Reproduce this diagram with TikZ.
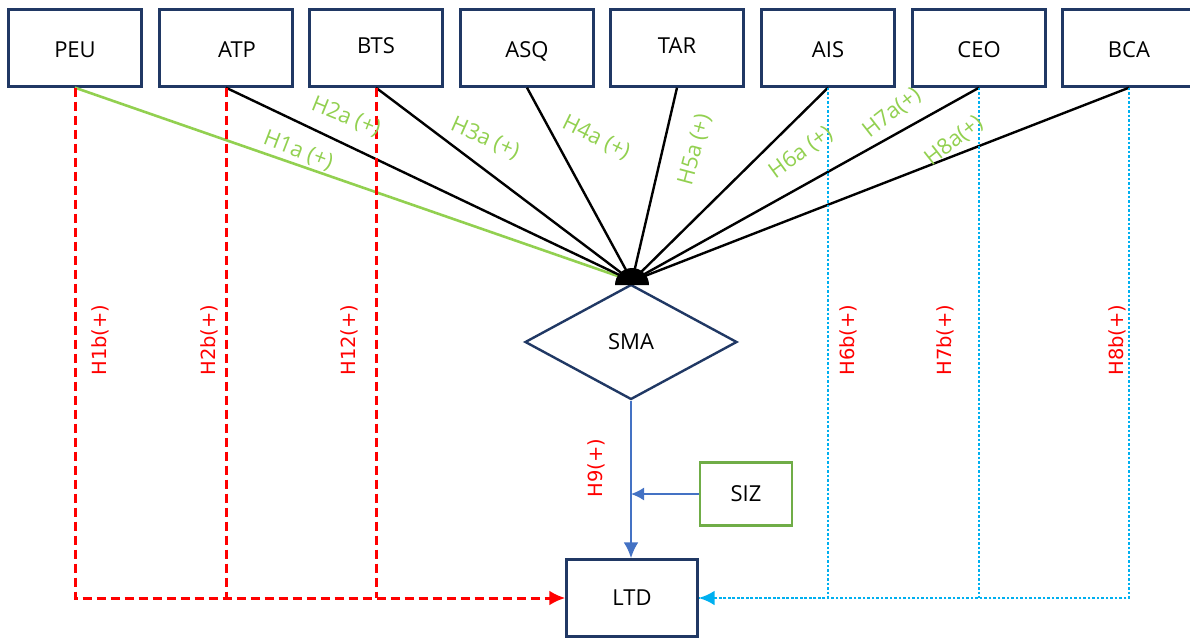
\documentclass[tikz,border=0pt]{standalone}
\usepackage{fontspec}
\setmainfont{Open Sans}
\newfontfamily\hypfont{DejaVu Sans}
\usetikzlibrary{shapes.geometric, arrows.meta}
\definecolor{navy}{RGB}{32,56,100}
\definecolor{leaf}{RGB}{146,208,80}
\definecolor{sizgreen}{RGB}{112,173,71}
\definecolor{linkblue}{RGB}{68,114,196}
\definecolor{skyblue}{RGB}{0,176,240}
\tikzset{
  var/.style={draw=navy, line width=2.4pt, minimum width=133pt, minimum height=77pt, inner sep=0pt, text height=21pt, text depth=2pt, font=\fontsize{22}{26}\selectfont},
  raised/.style={text height=12pt, text depth=2pt},
  hyp/.style={text=leaf, font=\fontsize{22}{26}\selectfont, inner sep=1pt},
  hypb/.style={text=red, font=\hypfont\fontsize{19.5}{23}\selectfont, rotate=90, inner sep=1pt},
  reddash/.style={red, line width=3pt, dash pattern=on 9pt off 5pt},
  bluedot/.style={skyblue, line width=2.6pt, dash pattern=on 2.5pt off 2pt},
  tip/.style={-{Latex[length=16pt, width=15pt]}}
}

\begin{document}
\begin{tikzpicture}[>=latex, x=1pt, y=-1pt]
    \useasboundingbox (0,0) rectangle (1190,637);

    \draw(75,48) node[var] (PEU) {PEU};
    \draw(226,48) node[var] (ATP) {\hspace*{22pt}ATP};
    \draw(376,48) node[var, raised] (BTS) {BTS};
    \draw(527,48) node[var] (ASQ) {ASQ};
    \draw(677,48) node[var, raised] (TAR) {TAR};
    \draw(828,48) node[var] (AIS) {AIS};
    \draw(979,48) node[var] (CEO) {CEO};
    \draw(1129,48) node[var] (BCA) {BCA};

    \draw(631,342) node[draw=navy, line width=2.4pt, diamond, aspect=1.84, minimum width=212pt, minimum height=115pt, inner sep=0pt, font=\fontsize{22}{26}\selectfont] (SMA) {SMA};
    \draw(632,598) node[var, minimum width=131pt, text height=17pt] (LTD) {LTD};
    \draw(746,494) node[draw=sizgreen, line width=2.4pt, minimum width=92pt, minimum height=63pt, font=\fontsize{22}{26}\selectfont] (SIZ) {SIZ};
    \coordinate (hub) at (632,281);

    % direct paths
    \draw[leaf, line width=2.6pt] (PEU.south) -- (hub);
    \foreach \v in {ATP, BTS, ASQ, TAR, AIS, CEO, BCA}
        \draw[line width=2.4pt] (\v.south) -- (hub);
    \fill (615,285) arc[start angle=180, end angle=360, radius=17] -- cycle;

    % indirect paths
    \draw[reddash, tip] (PEU.south) |- (LTD.west);
    \draw[reddash] (ATP.south) -- (ATP.south |- LTD.west);
    \draw[reddash] (BTS.south) -- (BTS.south |- LTD.west);
    \draw[bluedot] (BCA.south) |- (LTD.east);
    \draw[bluedot] (CEO.south) -- (CEO.south |- LTD.east);
    \draw[bluedot, tip] (AIS.south) |- (LTD.east);

    \draw[linkblue, line width=2.6pt, tip] (SMA.south) -- (SMA.south |- LTD.north);
    \draw[linkblue, line width=1.6pt, -{Latex[length=13pt, width=13pt]}] (SIZ.west) -- (SIZ.west -| SMA.south);

    \draw(298,151) node[hyp, rotate=-21] (h1a) {H1a (+)};
    \draw(346,117) node[hyp, rotate=-22] (h2a) {H2a (+)};
    \draw(485,139) node[hyp, rotate=-24] (h3a) {H3a (+)};
    \draw(596,138) node[hyp, rotate=-26] (h4a) {H4a (+)};
    \draw(695,150) node[hyp, rotate=75] (h5a) {H5a (+)};
    \draw(801,153) node[hyp, rotate=36] (h6a) {H6a (+)};
    \draw(892,113) node[hyp, rotate=38] (h7a) {H7a(+)};
    \draw(954,141) node[hyp, rotate=38] (h8a) {H8a(+)};

    \draw(100,340) node[hypb] (h1b) {H1b(+)};
    \draw(209,340) node[hypb] (h2b) {H2b(+)};
    \draw(349,340) node[hypb] (h12) {H12(+)};
    \draw(848,340) node[hypb] (h6b) {H6b(+)};
    \draw(945,340) node[hypb] (h7b) {H7b(+)};
    \draw(1117,340) node[hypb] (h8b) {H8b(+)};
    \draw(596,468) node[hypb] (h9) {H9(+)};

    \end{tikzpicture}
\end{document}
